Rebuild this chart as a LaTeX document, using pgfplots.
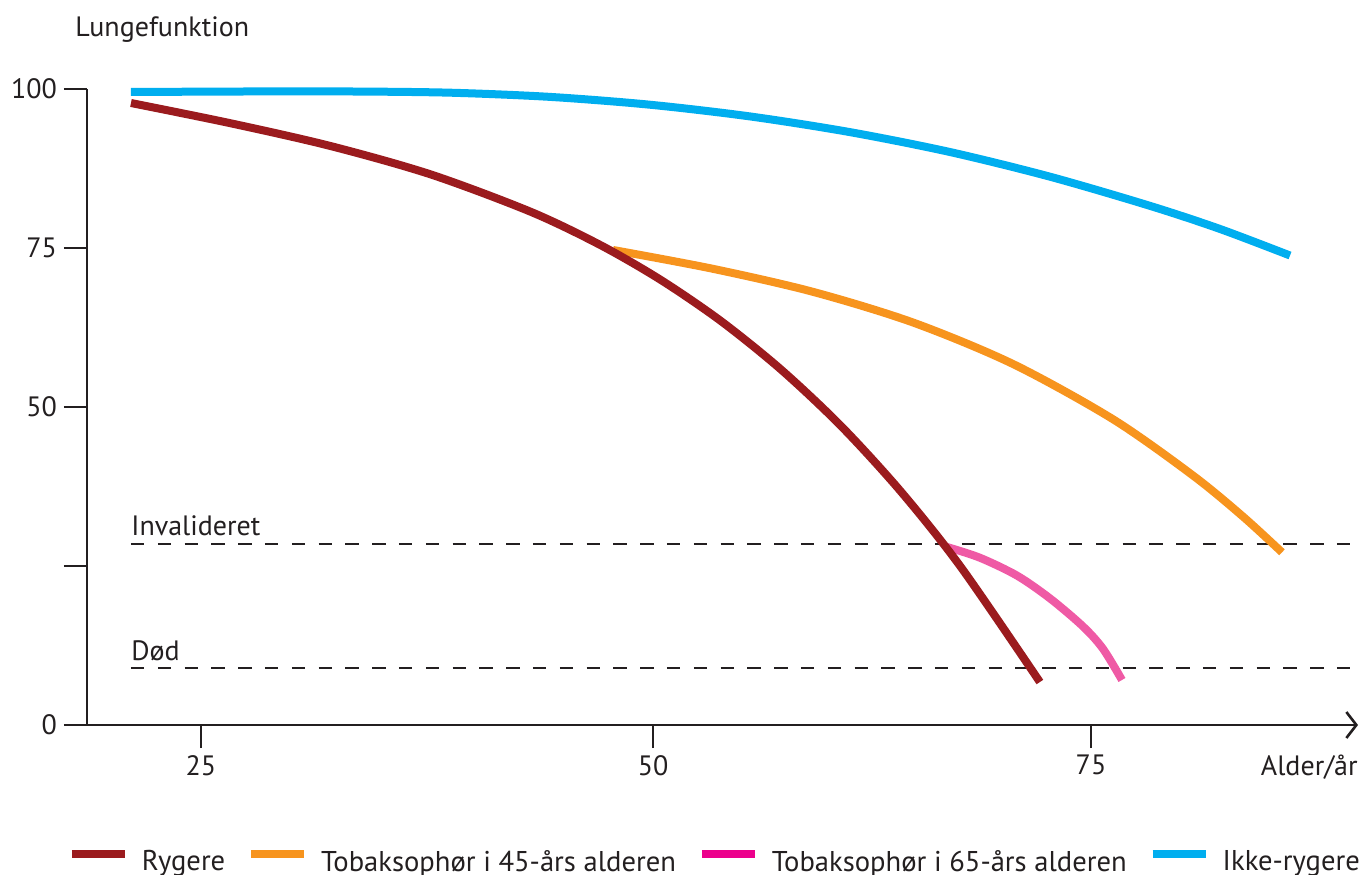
\documentclass[border=0pt]{standalone}
\usepackage{fontspec}
\setmainfont{PT Sans}
\usepackage{pgfplots}
\pgfplotsset{compat=1.18}
\usetikzlibrary{arrows.meta}

\definecolor{ink}{HTML}{231F20}
\definecolor{ryg}{HTML}{9B1B1E}
\definecolor{stop45}{HTML}{F7941E}
\definecolor{stop65}{HTML}{EF5AA5}
\definecolor{stop65leg}{HTML}{EC008C}
\definecolor{ikke}{HTML}{00AEEF}

\newcommand{\fs}{\fontsize{14}{17}\selectfont}

\begin{document}
\begin{tikzpicture}
\begin{axis}[
  scale only axis, width=635.5pt, height=318pt,
  xmin=18.6, xmax=90, ymin=0, ymax=100,
  clip=false,
  axis lines=left,
  axis line style={line width=1.3pt, ink},
  x axis line style={-{Straight Barb[length=5pt,width=13pt,line width=1.3pt]}},
  y axis line style={-},
  tick align=outside,
  major tick length=11.5pt,
  tick style={line width=1.3pt, ink},
  xtick={25,50.4,75}, xticklabels={25,50,75},
  ytick={0,25,50,75,100}, yticklabels={0,,50,75,100},
  tick label style={font=\fs, text=ink},
  /pgf/number format/assume math mode=true,
  legend columns=4,
  legend image code/.code={\draw[line width=4pt] (0pt,4pt) -- (26.5pt,4pt);},
  legend style={
    at={(rel axis cs:0,0)}, anchor=west,
    xshift=-9.5pt, yshift=-68.5pt,
    draw=none, fill=none, inner sep=0pt, outer sep=0pt,
    font=\fontsize{14.3}{17}\selectfont, text=ink,
    nodes={inner sep=0pt},
    cells={anchor=west},
    /tikz/every odd column/.append style={column sep=6.5pt},
    /tikz/every even column/.append style={column sep=11pt},
  },
]
\coordinate (O) at (rel axis cs:0,0);

% Invalideret / Død
\addplot[ink, line width=1.3pt, dash pattern=on 6.7pt off 6.7pt, forget plot]
  coordinates {(21.07,28.46) (90,28.46)};
\addplot[ink, line width=1.3pt, dash pattern=on 6.7pt off 6.7pt, forget plot]
  coordinates {(21.07,8.96) (90,8.96)};
\node[anchor=base west, inner sep=0pt, font=\fs, text=ink, yshift=4.5pt]
  at (axis cs:21.07,28.46) {Invalideret};
\node[anchor=base west, inner sep=0pt, font=\fs, text=ink, yshift=4pt]
  at (axis cs:21.07,8.96) {Død};

% Tobaksophør i 45-års alderen
\addplot[stop45, line width=4pt, smooth, forget plot] coordinates {
  (48.15,74.69) (53.76,71.73) (59.38,68.11) (65.00,63.29) (70.62,56.76)
  (76.24,48.07) (80.73,39.23) (83.54,32.77) (85.73,27.15)};

% Tobaksophør i 65-års alderen
\addplot[stop65, line width=4pt, smooth, forget plot] coordinates {
  (66.91,27.99) (68.76,26.30) (70.84,23.50) (72.70,19.90) (74.55,15.50)
  (75.67,12.00) (76.74,7.08)};

% Rygere
\addplot[ryg, line width=4pt, smooth, forget plot] coordinates {
  (21.07,97.80) (26.69,94.60) (32.30,91.02) (37.92,86.56) (43.54,80.68)
  (47.47,75.42) (50.84,69.97) (54.21,63.52) (57.58,55.91) (60.96,47.01)
  (64.33,36.68) (67.70,24.80) (72.13,6.76)};

% Ikke-rygere
\addplot[ikke, line width=4pt, smooth, forget plot] coordinates {
  (21.07,99.53) (27.75,99.61) (33.37,99.61) (38.99,99.42) (44.61,98.76)
  (50.22,97.53) (55.84,95.69) (61.46,93.22) (67.08,90.09) (72.70,86.21)
  (78.31,81.63) (82.25,77.99) (86.18,73.82)};

\addlegendimage{ryg}\addlegendentry{Rygere}
\addlegendimage{stop45}\addlegendentry{Tobaksophør i 45-års alderen}
\addlegendimage{stop65leg}\addlegendentry{Tobaksophør i 65-års alderen}
\addlegendimage{ikke}\addlegendentry{Ikke-rygere}
\end{axis}

\node[anchor=base west, inner sep=0pt, font=\fs, text=ink]
  at ([shift={(-6pt,344pt)}]O) {Lungefunktion};
\node[anchor=base east, inner sep=0pt, font=\fs, text=ink]
  at ([shift={(635.5pt,-25pt)}]O) {Alder/år};

\pgfresetboundingbox
\path[use as bounding box] ([shift={(-43.5pt,-74.5pt)}]O) rectangle ([shift={(639pt,362.5pt)}]O);
\end{tikzpicture}
\end{document}
